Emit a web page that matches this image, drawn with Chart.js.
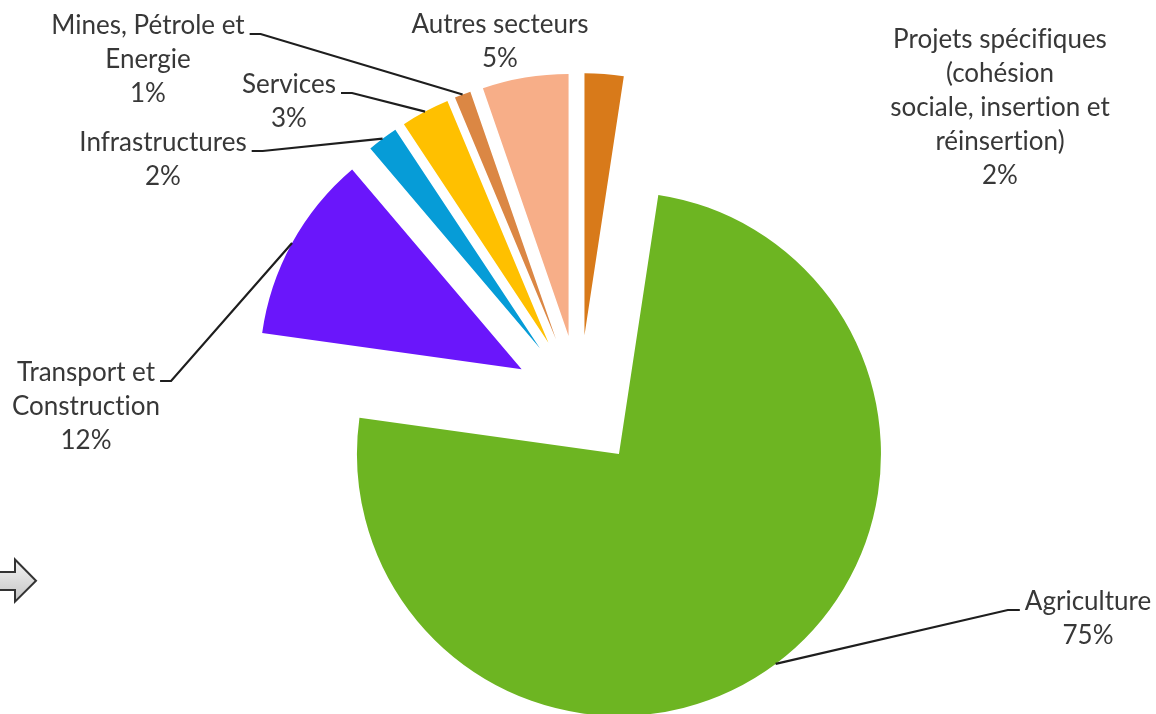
<!DOCTYPE html>
<html>
<head>
<meta charset="utf-8">
<script src="https://cdn.jsdelivr.net/npm/chart.js@4.4.1/dist/chart.umd.min.js"></script>
<style>
  html, body { margin: 0; padding: 0; background: #fff; }
  #wrap { position: relative; width: 1156px; height: 714px; overflow: hidden; }
  #arrow { position: absolute; left: 0; top: 556px; }
</style>
</head>
<body>
<div id="wrap">
  <canvas id="chart" width="1156" height="714"></canvas>
  <svg id="arrow" width="44" height="50" viewBox="0 0 44 50">
    <defs>
      <linearGradient id="grey" x1="0" y1="0" x2="0" y2="1">
        <stop offset="0" stop-color="#f4f4f4"/>
        <stop offset="1" stop-color="#c4c4c4"/>
      </linearGradient>
    </defs>
    <path d="M-3 16 L15 16 L15 3.5 L36 24.7 L15 45.7 L15 34 L-3 34 Z"
          fill="url(#grey)" stroke="#333" stroke-width="2" stroke-linejoin="miter"/>
  </svg>
</div>
<script>
// data, clockwise from 12 o'clock
var
    sectors = [
        'Projets spécifiques (cohésion sociale, insertion et réinsertion)'
      , 'Agriculture'
      , 'Transport et Construction'
      , 'Infrastructures'
      , 'Services'
      , 'Mines, Pétrole et Energie'
      , 'Autres secteurs'
    ]
  , shares = [2.4, 74.8, 11.6, 1.9, 3.0, 1.0, 5.3]

// how each label is broken into lines
var labelLines = [
    ['Projets spécifiques', '(cohésion', 'sociale, insertion et', 'réinsertion)']
  , ['Agriculture']
  , ['Transport et', 'Construction']
  , ['Infrastructures']
  , ['Services']
  , ['Mines, Pétrole et', 'Energie']
  , ['Autres secteurs']
]

// styles and layout
var
    colors      = ['#D87A1A', '#6DB522', '#6A16FB', '#069CD7', '#FFC000', '#DB8744', '#F7AE88']
  , explode     = 66
  , labelPos    = [[1000, 40], [1088, 602], [86, 373], [163, 143], [289, 85], [148, 26], [500, 25]]
  , leaderSide  = [null, 'left', 'right', 'right', 'right', 'right', null]
  , fontFamily  = 'Lato'
  , fontSize    = 26
  , lineHeight  = 34
  , textColor   = '#383838'

var total = shares.reduce(function (a, b) { return a + b }, 0)

var pctText = function (i) {
  return Math.round(shares[i] / total * 100) + '%'
}

// Lato would join "fi" / "ti", the original does not
var noLigature = function (s) {
  return s.replace(/([ft])i/g, '$1\u200Ci')
}

// push every slice out along its own middle angle, keeping one radius
var explodePlugin = {
  id: 'explodeAll',
  afterDatasetsUpdate: function (chart) {
    var arcs = chart.getDatasetMeta(0).data
    for (var i = 0; i < arcs.length; i++) {
      var mid = (arcs[i].startAngle + arcs[i].endAngle) / 2
      arcs[i].x += Math.cos(mid) * explode
      arcs[i].y += Math.sin(mid) * explode
    }
  }
}

var labelPlugin = {
  id: 'sectorLabels',
  afterDraw: function (chart) {
    var
        ctx  = chart.ctx
      , arcs = chart.getDatasetMeta(0).data

    ctx.save()
    ctx.font = fontSize + 'px ' + fontFamily
    ctx.fillStyle = textColor
    ctx.strokeStyle = '#1e1e1e'
    ctx.lineWidth = 2.2
    ctx.textAlign = 'center'
    ctx.textBaseline = 'middle'

    for (var i = 0; i < arcs.length; i++) {
      var
          arc   = arcs[i]
        , pos   = labelPos[i]
        , lines = labelLines[i].concat([pctText(i)]).map(noLigature)

      for (var k = 0; k < lines.length; k++)
        ctx.fillText(lines[k], pos[0], pos[1] + k * lineHeight)

      if (!leaderSide[i]) continue

      var
          mid = (arc.startAngle + arc.endAngle) / 2
        , ex  = arc.x + Math.cos(mid) * arc.outerRadius
        , ey  = arc.y + Math.sin(mid) * arc.outerRadius
        , w   = ctx.measureText(lines[0]).width
        , y   = pos[1] + 8
        , sx  = leaderSide[i] === 'right' ? pos[0] + w / 2 + 5 : pos[0] - w / 2 - 5
        , kx  = leaderSide[i] === 'right' ? sx + 11 : sx - 12

      ctx.beginPath()
      ctx.moveTo(sx, y)
      ctx.lineTo(kx, y)
      ctx.lineTo(ex, ey)
      ctx.stroke()
    }
    ctx.restore()
  }
}

new Chart(document.getElementById('chart'), {
    type: 'pie'
  , data: {
        labels: sectors
      , datasets: [{
            data: shares
          , backgroundColor: colors
          , borderWidth: 0
        }]
    }
  , options: {
        responsive: false
      , animation: false
      , events: []
      , radius: 262
      , layout: { padding: { left: 3, right: 0, top: 88, bottom: 0 } }
      , plugins: {
            legend: { display: false }
          , tooltip: { enabled: false }
        }
    }
  , plugins: [explodePlugin, labelPlugin]
})
</script>
</body>
</html>
